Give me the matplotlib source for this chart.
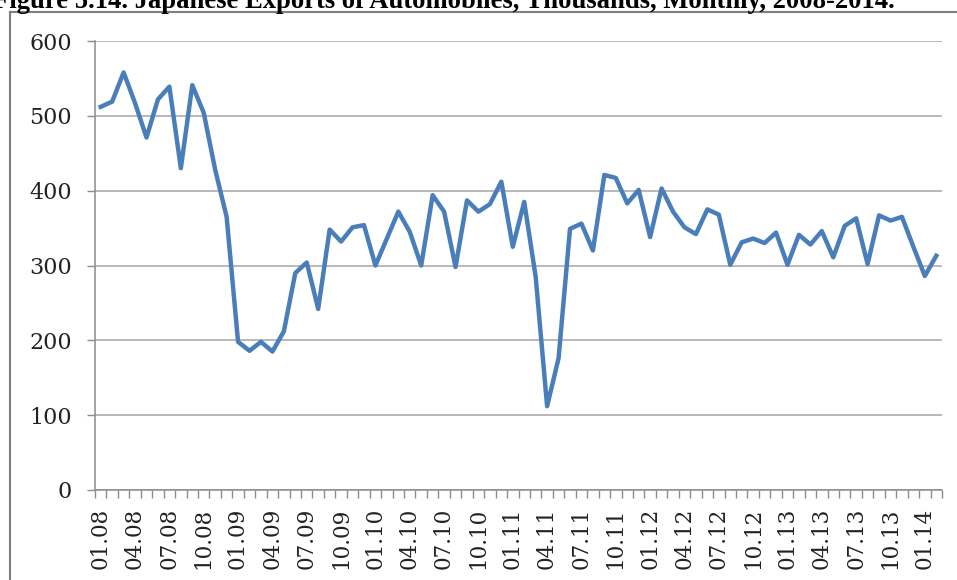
import numpy as np
import pandas as pd
import matplotlib
matplotlib.use("Agg")
import matplotlib.pyplot as plt
from matplotlib.lines import Line2D

# monthly exports, thousands of units, 01.2008 - 02.2014
months = pd.period_range("2008-01", "2014-02", freq="M").strftime("%m.%y").tolist()
exports = [512, 519, 558, 517, 471, 522, 539, 430, 541, 504, 428, 365,
           198, 186, 198, 185, 212, 290, 304, 242, 348, 332, 351, 354,
           300, 336, 372, 345, 300, 394, 372, 298, 387, 372, 382, 412,
           325, 385, 285, 112, 176, 349, 356, 320, 421, 417, 383, 401,
           338, 403, 372, 351, 342, 375, 368, 301, 331, 336, 330, 344,
           301, 341, 328, 346, 311, 353, 363, 302, 367, 360, 365, 325,
           286, 313]
tick_labels = ["01.08", "04.08", "07.08", "10.08", "01.09", "04.09", "07.09",
               "10.09", "01.10", "04.10", "07.10", "10.10", "01.11", "04.11",
               "07.11", "10.11", "01.12", "04.12", "07.12", "10.12", "01.13",
               "04.13", "07.13", "10.13", "01.14"]
title = "Figure 5.14. Japanese Exports of Automobiles, Thousands, Monthly, 2008-2014."

W, H = 957, 580
fig = plt.figure(figsize=(W / 100, H / 100), dpi=100)
ax = fig.add_axes([95 / W, 90 / H, (942 - 95) / W, (490 - 41) / H])

x = np.arange(len(months))
ax.plot(x, exports, color="#4A7EBB", lw=3.2, solid_joinstyle="round")

ax.set_xlim(-0.5, len(months) - 0.5)
ax.set_ylim(0, 600)
ax.set_yticks(range(0, 601, 100))
ax.grid(axis="y", color="#A6A6A6", lw=1.1)
ax.set_axisbelow(True)

# label positions looked up from the month list
pos = [months.index(t) for t in tick_labels]
ax.set_xticks(pos)
ax.set_xticklabels(tick_labels, rotation=90, ha="center", va="top")
ax.set_xticks(np.arange(-0.5, len(months), 1), minor=True)

for s in ["top", "right"]:
    ax.spines[s].set_visible(False)
for s in ["left", "bottom"]:
    ax.spines[s].set_color("#8C8C8C")
    ax.spines[s].set_linewidth(1.1)

ax.tick_params(axis="x", which="major", length=0, pad=13)
ax.tick_params(axis="x", which="minor", length=5.5, width=1, color="#8C8C8C")
ax.tick_params(axis="y", length=6, width=1, color="#8C8C8C", pad=10.5)
for lab in ax.get_xticklabels():
    lab.set_fontfamily("DejaVu Serif")
    lab.set_fontsize(15.5)
    lab.set_color("#222222")
for lab in ax.get_yticklabels():
    lab.set_fontfamily("DejaVu Serif")
    lab.set_fontsize(16)
    lab.set_color("#222222")

# outer chart frame and the cut-off caption above it
fig.add_artist(Line2D([10 / W, 10 / W], [0, 1 - 12 / H], transform=fig.transFigure,
                      color="#7F7F7F", lw=1.5))
fig.add_artist(Line2D([10 / W, 1], [1 - 12 / H, 1 - 12 / H], transform=fig.transFigure,
                      color="#7F7F7F", lw=1.5))
fig.text(895 / W, 1 - 8 / H, title, ha="right", va="baseline",
         fontfamily="Liberation Serif", fontweight="bold", fontsize=19.2)

fig.savefig("out.png", dpi=100)
